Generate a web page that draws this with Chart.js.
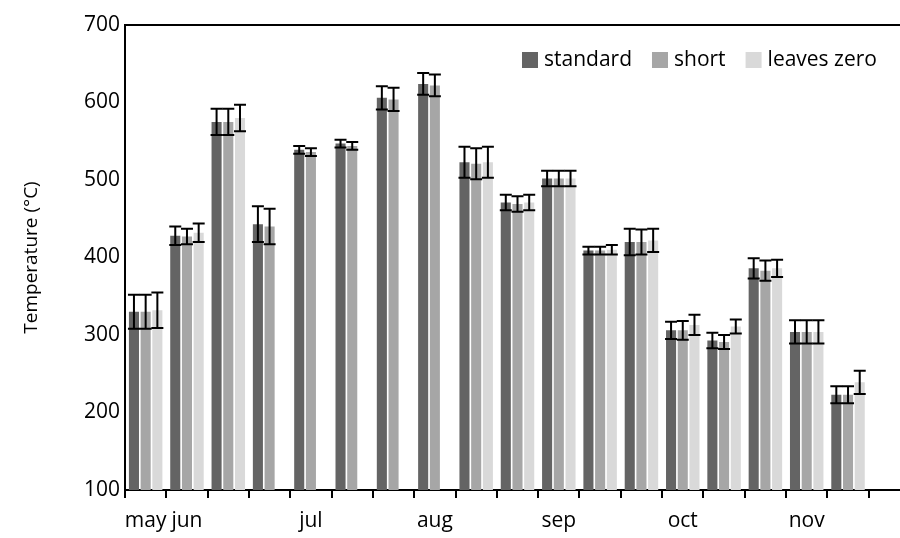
<!DOCTYPE html>
<html>
<head>
<meta charset="utf-8">
<script src="https://cdn.jsdelivr.net/npm/chart.js@4.4.0/dist/chart.umd.min.js"></script>
<style>
  html, body { margin: 0; padding: 0; background: #fff; overflow: hidden; }
  #wrap { width: 940px; height: 538px; }
</style>
</head>
<body>
<div id="wrap"><canvas id="chart" width="940" height="538"></canvas></div>
<script>
// ---- data ----
const labels = ['may', 'jun', '', '', 'jul', '', '', 'aug', '', '', 'sep', '', '', 'oct', '', '', 'nov', '', ''];

const standard   = [330, 428, 575, 443, 539, 547, 606, 624, 523, 471, 502, 409, 420, 306, 293, 386, 304, 223, null];
const short      = [330, 427, 575, 440, 536, 544, 604, 622, 521, 469, 502, 409, 420, 306, 291, 383, 304, 223, null];
const leavesZero = [332, 432, 580, null, null, null, null, null, 523, 471, 502, 410, 422, 313, 311, 386, 304, 239, null];

const standardErr   = [22, 12, 17, 23, 5, 5, 15, 14, 20, 10, 10, 5, 17, 11, 10, 13, 15, 11, 0];
const shortErr      = [22, 10, 17, 23, 5, 5, 15, 14, 20, 10, 10, 5, 16, 12, 9, 13, 15, 11, 0];
const leavesZeroErr = [23, 12, 17, 0, 0, 0, 0, 0, 20, 10, 10, 6, 15, 13, 9, 11, 15, 15, 0];

const yTicks = [100, 200, 300, 400, 500, 600, 700];

const FONT = "'Open Sans', 'Noto Sans', sans-serif";

// error bars, top frame line
const errorBars = {
  id: 'errorBars',
  afterDatasetsDraw(chart) {
    const ctx = chart.ctx;
    const y = chart.scales.y;
    ctx.save();
    ctx.strokeStyle = '#000';
    ctx.lineWidth = 2;
    chart.data.datasets.forEach((ds, i) => {
      const meta = chart.getDatasetMeta(i);
      meta.data.forEach((bar, j) => {
        const v = ds.data[j];
        const e = ds.errors[j];
        if (v == null || !e) return;
        const top = y.getPixelForValue(v + e);
        const bot = y.getPixelForValue(v - e);
        const half = 6;
        ctx.beginPath();
        ctx.moveTo(bar.x, top); ctx.lineTo(bar.x, bot);
        ctx.moveTo(bar.x - half, top); ctx.lineTo(bar.x + half, top);
        ctx.moveTo(bar.x - half, bot); ctx.lineTo(bar.x + half, bot);
        ctx.stroke();
      });
    });
    const a = chart.chartArea;
    ctx.beginPath();
    ctx.moveTo(a.left - 1, a.top);
    ctx.lineTo(a.right, a.top);
    ctx.stroke();
    ctx.restore();
  }
};

// legend inside the plot, top right (like the Excel one)
const insideLegend = {
  id: 'insideLegend',
  afterDraw(chart) {
    const ctx = chart.ctx;
    ctx.save();
    ctx.font = '21px ' + FONT;
    ctx.textBaseline = 'middle';
    ctx.fillStyle = '#000';
    let x = 522;
    const yMid = 60;
    chart.data.datasets.forEach(ds => {
      ctx.fillStyle = ds.backgroundColor;
      ctx.fillRect(x, yMid - 8, 16, 16);
      ctx.fillStyle = '#000';
      ctx.fillText(ds.label, x + 22, yMid);
      x += 22 + ctx.measureText(ds.label).width + 20;
    });
    ctx.restore();
  }
};

new Chart(document.getElementById('chart'), {
  type: 'bar',
  data: {
    labels: labels,
    datasets: [
      { label: 'standard', data: standard, errors: standardErr, backgroundColor: '#646464' },
      { label: 'short', data: short, errors: shortErr, backgroundColor: '#a6a6a6' },
      { label: 'leaves zero', data: leavesZero, errors: leavesZeroErr, backgroundColor: '#d9d9d9' }
    ]
  },
  options: {
    responsive: false,
    animation: false,
    layout: { padding: { left: 0, right: 30, top: 25, bottom: 0 } },
    datasets: {
      bar: { categoryPercentage: 0.85, barPercentage: 0.86, borderWidth: 0 }
    },
    plugins: {
      tooltip: { enabled: false },
      legend: { display: false }
    },
    scales: {
      x: {
        grid: {
          offset: true,
          drawOnChartArea: false,
          drawTicks: true,
          tickLength: 8,
          color: '#000',
          lineWidth: 2
        },
        border: { display: true, color: '#000', width: 2 },
        ticks: {
          autoSkip: false,
          maxRotation: 0,
          padding: 10,
          color: '#000',
          font: { family: FONT, size: 21 }
        },
        afterFit(scale) { scale.height = 48; }
      },
      y: {
        min: 100,
        max: 700,
        afterBuildTicks(scale) { scale.ticks = yTicks.map(v => ({ value: v })); },
        grid: { display: false, drawTicks: false },
        border: { display: true, color: '#000', width: 2 },
        ticks: {
          padding: 5,
          color: '#000',
          font: { family: FONT, size: 21 }
        },
        title: {
          display: true,
          text: 'Temperature (°C)',
          color: '#000',
          padding: { top: 20, bottom: 0 },
          font: { family: FONT, size: 19 }
        },
        afterFit(scale) { scale.width = 125; }
      }
    }
  },
  plugins: [errorBars, insideLegend]
});
</script>
</body>
</html>
